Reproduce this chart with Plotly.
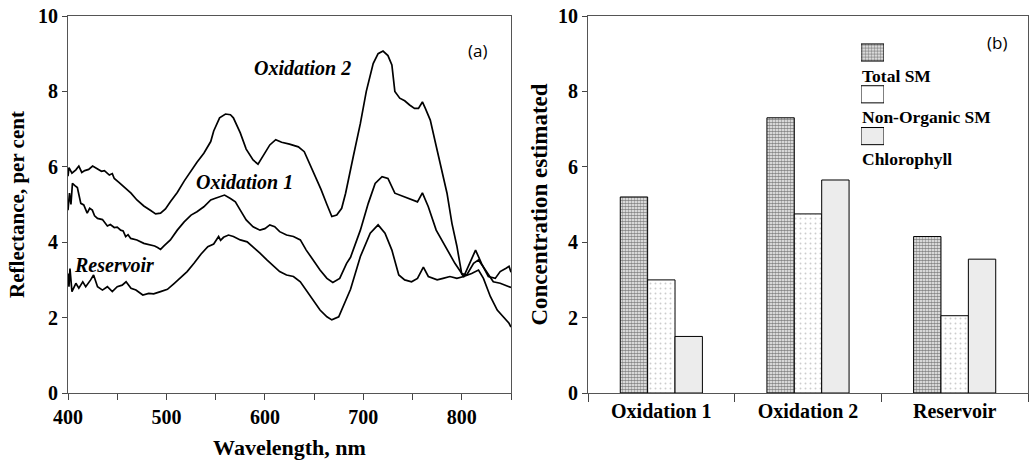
import plotly.graph_objects as go

# ---------------- Data: panel (a) reflectance spectra ----------------
ox2_wl = [400, 401, 404, 408, 411, 414, 417, 421, 425, 430, 434, 437, 442, 445, 447, 452, 457, 464, 470, 477,
          484, 489, 494, 499, 504, 511, 518, 525, 531, 538, 545, 548, 554, 560, 565, 568, 575, 581, 588, 593,
          599, 605, 611, 617, 625, 634, 640, 646, 652, 657, 663, 668, 673, 678, 682, 686, 690, 697, 703, 710,
          715, 720, 725, 729, 732, 737, 742, 747, 752, 756, 760, 763, 768, 774, 780, 785, 790, 795, 800, 802,
          808, 814, 820, 827, 834, 839, 845, 848, 850]
ox2_val = [5.75, 5.98, 5.83, 5.92, 6.02, 5.85, 5.90, 5.93, 6.02, 5.94, 5.88, 5.90, 5.78, 5.82, 5.69, 5.58, 5.47, 5.30, 5.12, 4.96,
           4.84, 4.75, 4.77, 4.88, 5.07, 5.32, 5.62, 5.90, 6.12, 6.36, 6.67, 6.95, 7.30, 7.40, 7.38, 7.30, 6.90, 6.47, 6.18, 6.07,
           6.32, 6.58, 6.72, 6.65, 6.60, 6.53, 6.40, 6.05, 5.70, 5.40, 5.00, 4.68, 4.72, 4.90, 5.30, 5.85, 6.30, 7.15, 8.00, 8.74,
           9.00, 9.07, 8.95, 8.70, 8.00, 7.82, 7.75, 7.64, 7.55, 7.55, 7.72, 7.55, 7.24, 6.55, 5.90, 5.30, 4.50, 3.90, 3.15, 3.09,
           3.44, 3.79, 3.44, 3.09, 3.04, 3.22, 3.31, 3.36, 3.20]

ox1_wl = [400, 401.5, 403, 404.5, 407, 409.5, 413, 416, 419.5, 422, 424.7, 427, 430, 435, 440, 443, 447, 450, 453.5, 456,
          458.6, 461, 463.7, 470, 477, 484, 488, 491, 494, 497.5, 504, 511, 518, 525, 531, 538, 545, 549, 554, 559,
          565, 570, 575, 581, 588, 595, 600, 605, 610, 615, 622, 629, 636, 642, 649, 656, 663, 669, 676, 683,
          687, 697, 705, 712, 719, 725, 732, 741, 749, 755, 760, 766, 774, 785, 793, 800, 805, 812, 817, 824,
          832, 839, 847, 850]
ox1_val = [4.85, 5.30, 5.00, 5.56, 5.50, 5.45, 5.03, 4.99, 4.77, 4.90, 4.85, 4.70, 4.63, 4.60, 4.43, 4.47, 4.39, 4.40, 4.32, 4.30,
           4.15, 4.20, 4.10, 4.06, 3.97, 3.93, 3.90, 3.86, 3.81, 3.90, 4.06, 4.32, 4.54, 4.72, 4.81, 4.94, 5.12, 5.16, 5.21, 5.25,
           5.16, 5.07, 4.85, 4.59, 4.41, 4.32, 4.36, 4.46, 4.41, 4.28, 4.19, 4.15, 4.06, 3.79, 3.53, 3.26, 3.04, 2.93, 3.04, 3.44,
           3.60, 4.32, 5.03, 5.56, 5.74, 5.69, 5.30, 5.21, 5.12, 5.07, 5.31, 4.94, 4.32, 3.79, 3.44, 3.17, 3.13, 3.44, 3.53, 3.26,
           2.95, 2.91, 2.82, 2.80]

res_wl = [400, 401, 402, 404, 408, 411, 415, 418, 423, 426, 430, 435, 440, 445, 450, 455, 459, 464, 469, 476,
          482, 487, 494, 501, 508, 515, 521, 528, 535, 542, 548, 553, 555, 558, 563, 568, 575, 582, 588, 595,
          602, 609, 615, 622, 629, 636, 642, 649, 656, 663, 668, 675, 681, 687, 697, 707, 715, 722, 729, 736,
          742, 749, 755, 761, 766, 775, 781, 788, 795, 802, 810, 817, 822, 829, 836, 842, 848, 850]
res_val = [3.17, 2.82, 3.30, 2.69, 2.91, 2.78, 2.95, 2.82, 3.00, 3.13, 2.82, 2.73, 2.82, 2.69, 2.82, 2.86, 2.95, 2.78, 2.73, 2.60,
           2.64, 2.63, 2.69, 2.75, 2.91, 3.09, 3.22, 3.44, 3.68, 3.88, 3.95, 4.15, 4.05, 4.13, 4.19, 4.15, 4.06, 4.01, 3.88, 3.71,
           3.53, 3.35, 3.22, 3.13, 3.09, 2.95, 2.73, 2.47, 2.20, 2.02, 1.94, 2.02, 2.38, 2.75, 3.62, 4.24, 4.46, 4.24, 3.79, 3.13,
           3.00, 2.95, 3.04, 3.34, 3.09, 3.00, 3.04, 3.09, 3.04, 3.09, 3.17, 3.26, 3.04, 2.56, 2.20, 2.02, 1.85, 1.75]

# ---------------- Data: panel (b) concentrations ----------------
sites = ["Oxidation 1", "Oxidation 2", "Reservoir"]
series_names = ["Total SM", "Non-Organic SM", "Chlorophyll"]
total_sm = [5.2, 7.3, 4.15]
non_organic_sm = [3.0, 4.75, 2.05]
chlorophyll = [1.5, 5.65, 3.55]

x_ticks_a = [400, 500, 600, 700, 800]
y_ticks = [0, 2, 4, 6, 8, 10]

SERIF = "Liberation Serif"
fig = go.Figure()

line_style = dict(color="black", width=1.7)
for wl, val, nm in [(ox2_wl, ox2_val, "Oxidation 2"), (ox1_wl, ox1_val, "Oxidation 1"), (res_wl, res_val, "Reservoir")]:
    fig.add_trace(go.Scatter(x=wl, y=val, mode="lines", line=line_style, name=nm,
                             showlegend=False, xaxis="x", yaxis="y"))

patterns = [
    dict(shape=".", fgcolor="#111111", bgcolor="#ffffff", size=3, solidity=0.62),
    dict(shape=".", fgcolor="#9a9a9a", bgcolor="#ffffff", size=5, solidity=0.12),
    dict(shape=".", fgcolor="#a8a8a8", bgcolor="#ffffff", size=2, solidity=0.5),
]
for nm, vals, pat in zip(series_names, [total_sm, non_organic_sm, chlorophyll], patterns):
    fig.add_trace(go.Bar(x=sites, y=vals, name=nm, xaxis="x2", yaxis="y2", showlegend=False,
                         marker=dict(color="white", pattern=pat, line=dict(color="black", width=1))))

# legend key swatches (drawn in a small inset axis, labels placed beneath each swatch)
legend_pats = [patterns[0], dict(shape="", fgcolor="#ffffff", bgcolor="#ffffff", size=5, solidity=0.1), patterns[2]]
fig.add_trace(go.Bar(
    y=series_names, x=[1, 1, 1], orientation="h", width=0.41, xaxis="x3", yaxis="y3", showlegend=False,
    hoverinfo="skip",
    marker=dict(color="white", line=dict(color="black", width=1),
                pattern=dict(shape=[p["shape"] for p in legend_pats],
                             fgcolor=[p["fgcolor"] for p in legend_pats],
                             bgcolor=[p["bgcolor"] for p in legend_pats],
                             size=[p["size"] for p in legend_pats],
                             solidity=[p["solidity"] for p in legend_pats]))))

ytop = 1 - 16 / 460
ybot = 1 - 393 / 460
axis_font = dict(family=SERIF, size=20, color="black")

def bold(vals):
    return [f"<b>{v}</b>" for v in vals]

fig.update_layout(
    width=1030, height=460,
    margin=dict(l=0, r=0, t=0, b=0),
    paper_bgcolor="white", plot_bgcolor="white",
    font=dict(family=SERIF, color="black"),
    barmode="group", bargap=0.44, bargroupgap=0, showlegend=False,
    xaxis=dict(domain=[68 / 1030, 511 / 1030], range=[400, 850], tickvals=x_ticks_a, ticktext=bold(x_ticks_a),
               ticks="outside", ticklen=6, tickcolor="#444", automargin=False,
               minor=dict(dtick=50, ticks="outside", ticklen=6, tickcolor="#444"),
               showline=True, linecolor="#555", linewidth=1, mirror=True, showgrid=False, zeroline=False,
               tickfont=axis_font,
               title=dict(text="<b>Wavelength, nm</b>", font=dict(family=SERIF, size=22, color="black"), standoff=12)),
    yaxis=dict(domain=[ybot, ytop], range=[0, 10], tickvals=y_ticks, ticktext=bold(y_ticks),
               ticks="outside", ticklen=5, tickcolor="#444", automargin=False,
               showline=True, linecolor="#555", linewidth=1, mirror=True, showgrid=False, zeroline=False,
               tickfont=axis_font,
               title=dict(text="<b>Reflectance, per cent</b>", font=dict(family=SERIF, size=21, color="black"),
                          standoff=7)),
    xaxis2=dict(domain=[588 / 1030, 1028 / 1030], anchor="y2", tickson="boundaries", ticks="outside", ticklen=8,
                tickvals=sites, ticktext=bold(sites), automargin=False,
                tickcolor="#444", showline=True, linecolor="#555", linewidth=1, mirror=True, showgrid=False,
                tickfont=axis_font),
    yaxis2=dict(domain=[ybot, ytop], anchor="x2", range=[0, 10], tickvals=y_ticks, ticktext=bold(y_ticks),
                ticks="outside", ticklen=5, automargin=False,
                tickcolor="#444", showline=True, linecolor="#555", linewidth=1, mirror=True, showgrid=False,
                zeroline=False, tickfont=axis_font,
                title=dict(text="<b>Concentration estimated</b>", font=dict(family=SERIF, size=23, color="black"),
                           standoff=3)),
    xaxis3=dict(domain=[861 / 1030, 884 / 1030], anchor="y3", range=[0, 1], visible=False, fixedrange=True),
    yaxis3=dict(domain=[1 - 157 / 460, 1 - 31.6 / 460], anchor="x3", type="category", range=[2.5, -0.5],
                visible=False, fixedrange=True),
)

def add_text(text, x, y, size=18, family=SERIF, xanchor="center"):
    fig.add_annotation(xref="paper", yref="paper", showarrow=False, x=x / 1030, y=1 - y / 460, text=text,
                       xanchor=xanchor, yanchor="middle", font=dict(family=family, size=size, color="black"))

add_text("<b><i>Oxidation 2</i></b>", 302, 68, size=20)
add_text("<b><i>Oxidation 1</i></b>", 244, 182, size=20)
add_text("<b><i>Reservoir</i></b>", 114, 265, size=20)
add_text("(a)", 477, 50, size=17, family="Open Sans")
add_text("(b)", 997, 42, size=17, family="Open Sans")
for lbl, yy in zip(series_names, [76, 117, 159]):
    add_text(f"<b>{lbl}</b>", 860, yy, size=17.5, xanchor="left")

fig.write_html("out.html")
